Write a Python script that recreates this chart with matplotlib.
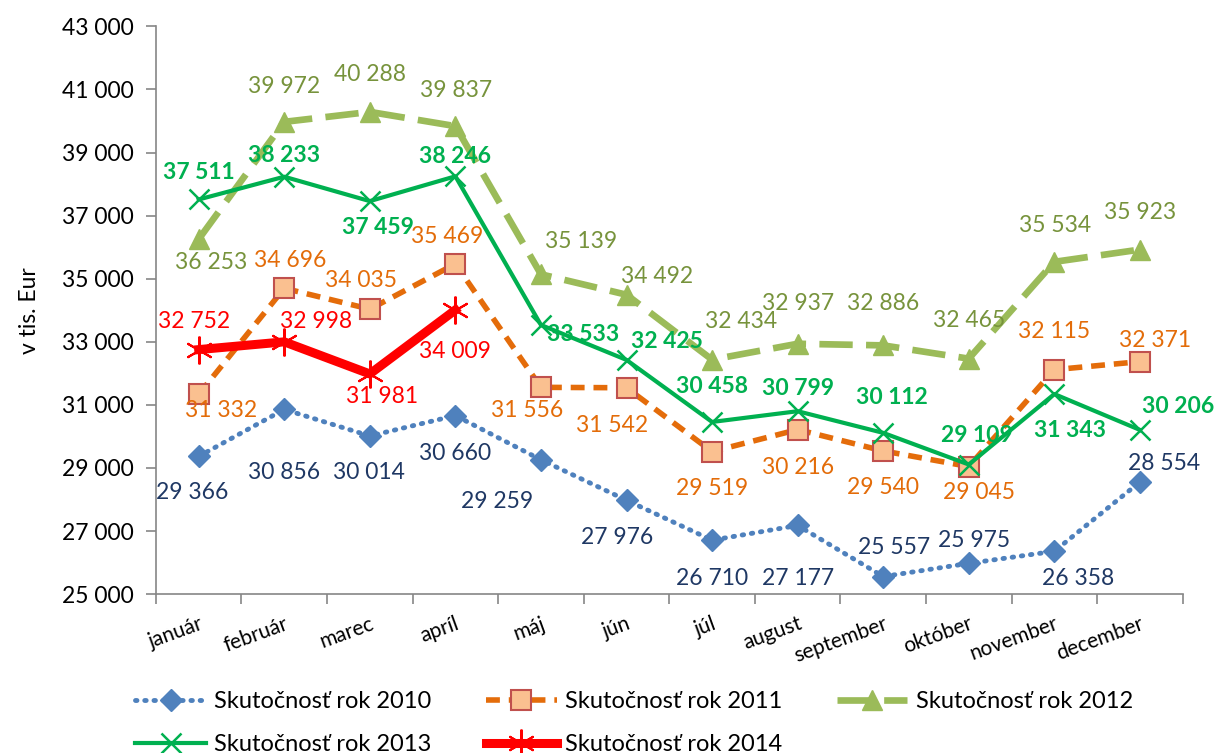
import matplotlib
matplotlib.use("Agg")
import matplotlib.pyplot as plt
from matplotlib.transforms import offset_copy

plt.rcParams['font.family'] = ['Lato', 'DejaVu Sans']

months = ['január', 'február', 'marec', 'apríl', 'máj', 'jún', 'júl',
          'august', 'september', 'október', 'november', 'december']

s2010 = [29366, 30856, 30014, 30660, 29259, 27976, 26710, 27177, 25557, 25975, 26358, 28554]
s2011 = [31332, 34696, 34035, 35469, 31556, 31542, 29519, 30216, 29540, 29045, 32115, 32371]
s2012 = [36253, 39972, 40288, 39837, 35139, 34492, 32434, 32937, 32886, 32465, 35534, 35923]
s2013 = [37511, 38233, 37459, 38246, 33533, 32425, 30458, 30799, 30112, 29109, 31343, 30206]
s2014 = [32752, 32998, 31981, 34009]

# label offsets in pixels (dx right, dy down) - placed by hand like in excel
off2010 = [(-6, 36), (0, 63), (-1, 37), (0, 38), (-44, 42), (-9, 37), (0, 38), (0, 53),
           (11, -29), (5, -23), (24, 27), (24, -19)]
off2011 = [(22, 16), (6, -28), (-9, -29), (-8, -27), (-14, 23), (-14, 38), (0, 37), (0, 38),
           (0, 37), (10, 26), (0, -38), (15, -21)]
off2012 = [(12, 23), (0, -35), (0, -37), (1, -36), (40, -33), (31, -18), (29, -38), (0, -40),
           (0, -42), (0, -38), (1, -36), (0, -37)]
off2013 = [(0, -27), (0, -21), (8, 26), (0, -20), (42, 10), (40, -18), (0, -35), (0, -23),
           (9, -35), (8, -29), (16, 36), (38, -23)]
off2014 = [(-5, -28), (32, -20), (12, 23), (0, 42)]


def fmt(v):
    return '{:,}'.format(v).replace(',', ' ')


fig = plt.figure(figsize=(12.18, 7.53), dpi=100)
ax = fig.add_axes([0.128, 0.211, 0.843, 0.754])

x = list(range(12))

l10, = ax.plot(x, s2010, color='#4F81BD', lw=3.5, linestyle=(0, (0.3, 1.6)),
               dash_capstyle='round', marker='D', ms=11, mfc='#4F81BD', mec='#4F81BD',
               label='Skutočnosť rok 2010')
l11, = ax.plot(x, s2011, color='#E46C0A', lw=4, linestyle=(0, (2.5, 1.6)),
               marker='s', ms=15, mfc='#FAC090', mec='#C0504D', mew=1.5,
               label='Skutočnosť rok 2011')
l12, = ax.plot(x, s2012, color='#9BBB59', lw=4.8, linestyle=(0, (5, 2)),
               marker='^', ms=15, mfc='#9BBB59', mec='#9BBB59',
               label='Skutočnosť rok 2012')
l13, = ax.plot(x, s2013, color='#00B050', lw=3, marker='x', ms=14, mew=1.8,
               label='Skutočnosť rok 2013')
l14, = ax.plot(x[:4], s2014, color='#FF0000', lw=6.5, marker=(6, 2, 0), ms=20, mew=1.5,
               label='Skutočnosť rok 2014')

series = [
    (s2010, off2010, '#1F3864', 'normal'),
    (s2011, off2011, '#E36C09', 'normal'),
    (s2012, off2012, '#77933C', 'normal'),
    (s2013, off2013, '#00B050', 'bold'),
    (s2014, off2014, '#FF0000', 'normal'),
]
for vals, offs, col, w in series:
    for i, v in enumerate(vals):
        dx, dy = offs[i]
        tr = offset_copy(ax.transData, fig=fig, x=dx, y=-dy, units='dots')
        ax.text(i, v, fmt(v), transform=tr, ha='center', va='center',
                fontsize=16.5, color=col, fontweight=w)

ax.set_xlim(-0.5, 11.5)
ax.set_ylim(25000, 43000)
ax.set_yticks(range(25000, 43001, 2000))
ax.set_yticklabels([fmt(v) for v in range(25000, 43001, 2000)], fontsize=16.5)
ax.set_xticks(x)
ax.set_xticklabels(months, fontsize=15, rotation=20, ha='right', rotation_mode='anchor')
ax.set_xticks([i - 0.5 for i in range(13)], minor=True)
ax.tick_params(axis='x', which='major', length=0, pad=14)
ax.tick_params(axis='x', which='minor', length=7, color='#868686', width=1.2)
ax.tick_params(axis='y', length=7, color='#868686', width=1.2, pad=9)

for s in ['top', 'right']:
    ax.spines[s].set_visible(False)
for s in ['left', 'bottom']:
    ax.spines[s].set_color('#868686')
    ax.spines[s].set_linewidth(1.2)

ax.set_ylabel('v tis. Eur', fontsize=16.5, labelpad=16)

handles = [l10, l13, l11, l14, l12]
fig.legend(handles=handles, labels=[h.get_label() for h in handles], ncol=3,
           loc='upper left', bbox_to_anchor=(0.111, 0.082), frameon=False,
           fontsize=17, handlelength=3.0, numpoints=1, columnspacing=2.3,
           labelspacing=0.92, handletextpad=0.35, borderaxespad=0, borderpad=0)

fig.savefig('out.png', dpi=100)
